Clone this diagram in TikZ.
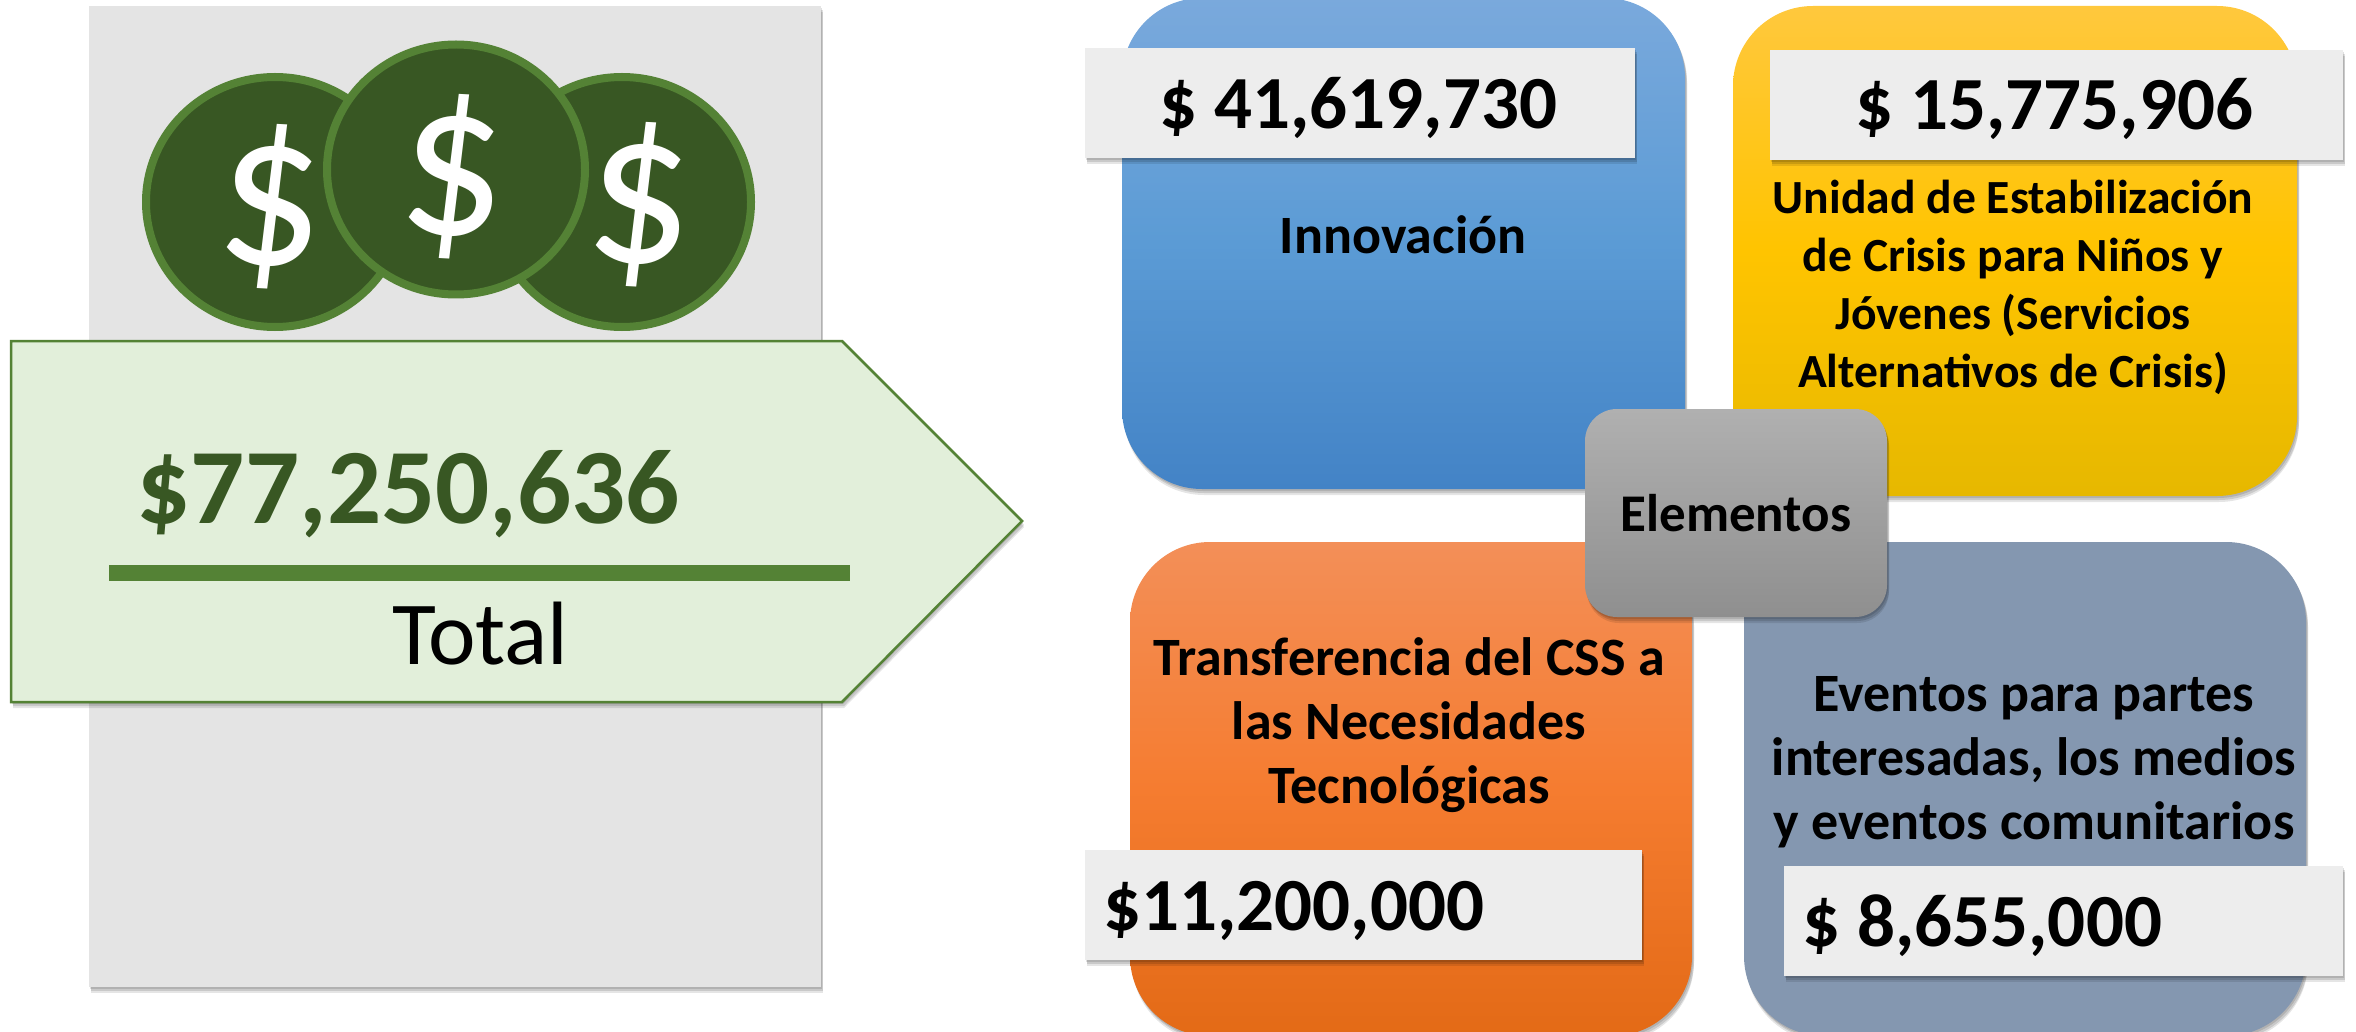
\documentclass[tikz,border=0pt]{standalone}
\usepackage{fontspec}
\setmainfont{Carlito}
\newfontfamily\dollarfont[FakeStretch=0.95]{Carlito}
\usetikzlibrary{shapes.geometric,shadows}
\definecolor{grn}{HTML}{548235}
\definecolor{dgrn}{HTML}{385723}
\definecolor{lgrn}{HTML}{E2EFDA}
\definecolor{panel}{HTML}{E4E4E4}
\definecolor{lab}{HTML}{EDEDED}
\definecolor{blueT}{HTML}{7AA9DC}
\definecolor{blueM}{HTML}{5B9BD5}
\definecolor{blueB}{HTML}{4383C6}
\definecolor{yelT}{HTML}{FFC83D}
\definecolor{yelM}{HTML}{FFC400}
\definecolor{yelB}{HTML}{E6B800}
\definecolor{orT}{HTML}{F38F58}
\definecolor{orM}{HTML}{F57C30}
\definecolor{orB}{HTML}{E36A16}
\definecolor{slate}{HTML}{8497B0}
\definecolor{gryT}{HTML}{B0B0B0}
\definecolor{gryB}{HTML}{8F8F8F}
\tikzset{
  softshadow/.style={
    general shadow={shadow xshift=1pt,shadow yshift=-2pt,fill=black,opacity=.12},
    general shadow={shadow xshift=2pt,shadow yshift=-4pt,fill=black,opacity=.12},
    general shadow={shadow xshift=2pt,shadow yshift=-6pt,fill=black,opacity=.10}},
  quad/.style={rounded corners=80pt,inner sep=0pt,softshadow},
  labbox/.style={fill=lab,inner sep=0pt,softshadow},
  coin/.style={ellipse,draw=grn,line width=8pt,fill=dgrn,inner sep=0pt,minimum width=258pt,minimum height=250pt,
    general shadow={shadow xshift=0pt,shadow yshift=-2pt,fill=black,opacity=.25},
    general shadow={shadow xshift=0pt,shadow yshift=2pt,fill=black,opacity=.12}},
  dollar/.style={text=white,inner sep=0pt,rotate=-3,font=\fontsize{222}{222}\selectfont\dollarfont},
  amount/.style={anchor=base west,inner sep=0pt,font=\fontsize{75}{75}\selectfont\bfseries},
  title/.style={align=center,inner sep=0pt,font=\fontsize{54}{64}\selectfont\bfseries},
}
\begin{document}
\begin{tikzpicture}[x=1pt,y=-1pt]
\useasboundingbox (0,0) rectangle (2356,1032);
\clip (0,0) rectangle (2356,1032);
% left panel
\node[fill=panel,inner sep=0pt,minimum width=732pt,minimum height=981pt,softshadow] (panel) at (455,496.5) {};
% coins
\node[coin] (coinL) at (275,202) {};
\node[coin] (coinR) at (622,202) {};
\node[coin] (coinM) at (456,169.5) {};
\node[dollar] (dL) at (271,207) {\$};
\node[dollar] (dM) at (453,177) {\$};
\node[dollar] (dR) at (640,204.5) {\$};
% arrow
\draw[draw=grn,line width=2.5pt,fill=lgrn,softshadow] (11,341) -- (842,341) -- (1022,521) -- (842,702) -- (11,702) -- cycle;
\node[anchor=base west,inner sep=0pt,text=dgrn,font=\fontsize{107}{107}\selectfont\bfseries] (total) at (136.5,523) {\$77,250,636};
\node[fill=grn,inner sep=0pt,minimum width=741pt,minimum height=16pt] (rule) at (479.5,573) {};
\node[anchor=base west,inner sep=0pt,font=\fontsize{90}{90}\selectfont] (tlabel) at (392,664) {Total};
% quadrants
\node[quad,minimum width=563pt,minimum height=491pt,top color=blueT,bottom color=blueB,middle color=blueM] (blue) at (1403.5,243.5) {};
\node[quad,minimum width=564pt,minimum height=490pt,top color=yelT,bottom color=yelB,middle color=yelM] (yellow) at (2015,251) {};
\node[quad,minimum width=562pt,minimum height=494pt,top color=orT,bottom color=orB,middle color=orM] (orange) at (1411,789) {};
\node[quad,minimum width=562pt,minimum height=494pt,fill=slate] (slatebox) at (2025,789) {};
% amount labels
\node[labbox,minimum width=550pt,minimum height=110pt] (lblue) at (1360,103) {};
\node[labbox,minimum width=573pt,minimum height=110pt] (lyellow) at (2056.5,105) {};
\node[labbox,minimum width=557pt,minimum height=110pt] (lorange) at (1363.5,905) {};
\node[labbox,minimum width=559pt,minimum height=110pt] (lslate) at (2063.5,921) {};
\node[amount] (a1) at (1159,129) {\$ 41,619,730};
\node[amount] (a2) at (1855,130) {\$ 15,775,906};
\node[amount] (a3) at (1103,930) {\$11,200,000};
\node[amount] (a4) at (1802,946) {\$ 8,655,000};
% titles
\node[title,anchor=base] (t1) at (1403,254) {Innovación};
\node[title,font=\fontsize{47.6}{58}\selectfont\bfseries] (t2) at (2013,287) {Unidad de Estabilización\\de Crisis para Niños y\\Jóvenes (Servicios\\Alternativos de Crisis)};
\node[title] (t3) at (1409,725) {Transferencia del CSS a\\las Necesidades\\Tecnológicas};
\node[title] (t4) at (2034,762) {Eventos para partes\\interesadas, los medios\\y eventos comunitarios};
% centre
\node[rounded corners=32pt,inner sep=0pt,minimum width=302pt,minimum height=208pt,top color=gryT,bottom color=gryB,softshadow] (centre) at (1736,513) {};
\node[title,anchor=base,font=\fontsize{53}{64}\selectfont\bfseries] (ctext) at (1736,531) {Elementos};
\end{tikzpicture}
\end{document}
